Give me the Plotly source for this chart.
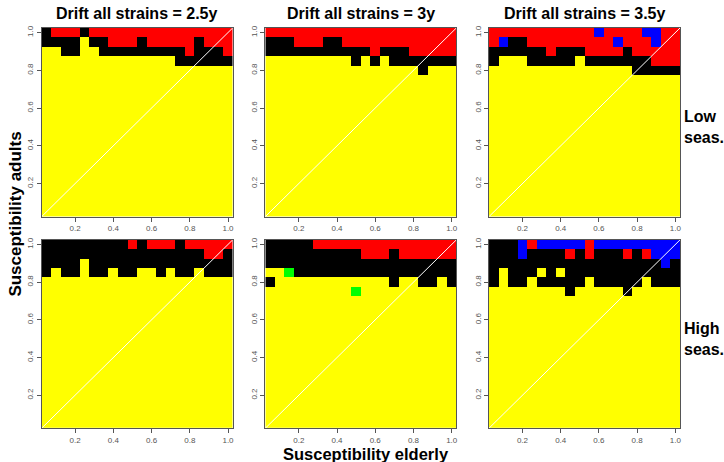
import plotly.graph_objects as go

W, H = 724, 462

# susceptibility grid (cell centres) for both axes
susc = [0.05, 0.10, 0.15, 0.20, 0.25, 0.30, 0.35, 0.40, 0.45, 0.50,
        0.55, 0.60, 0.65, 0.70, 0.75, 0.80, 0.85, 0.90, 0.95, 1.00]

tick_vals = [0.2, 0.4, 0.6, 0.8, 1.0]
tick_text = ["0.2", "0.4", "0.6", "0.8", "1.0"]

drift_titles = ["Drift all strains = 2.5y", "Drift all strains = 3y", "Drift all strains = 3.5y"]
season_labels = ["Low<br>seas.", "High<br>seas."]

# outcome category per cell, rows listed from adults=1.00 downward;
# Y=yellow, B=black, R=red, U=blue, G=green; rows not listed are all yellow
low_25 = ["BRRRBRRRRRRRRRRRRRRR",
          "BBBBYBBRRRBRRRRRBRRR",
          "YYBBYYBBBBBBBBBRBBBR",
          "YYYYYYYYYYYYYYBBBBBB"]
low_3 = ["RRRRRRRRRRRRRRRRRRRR",
         "BBBRRRBBRRRRRRRRRRRR",
         "BBBBBBBBBBBRBBBRRRRR",
         "YYYYYYYYYBYBYBBBBBBB",
         "YYYYYYYYYYYYYYYYBYYY"]
low_35 = ["RRRRRRRRRRRURRRRUURR",
          "RUBBRRRRRRRRRURRRURR",
          "BBBBBBRBBBRRRRBRRRRR",
          "BYYYBBBBBYBBBBBBBRRR",
          "YYYYYYYYYYYYYYYBBBBB"]
high_25 = ["BBBBBBBBBRBRRRBRRRRR",
           "BBBBBBBBBBBBBBBBBRRB",
           "BBBBYBBBBBBBBBBBBBBB",
           "BYBBYBBYBBYYBYBBYBBB"]
high_3 = ["BBBBBRRRRRRRRRRRRRRR",
          "BBBBBBBBBBRRRBRRRRRR",
          "BBBBBBBBBBBBBBBBBBBB",
          "YYGBBBBBBBBBBBBBBBBB",
          "BYYYYYYYYYYYYBYYBBYB",
          "YYYYYYYYYGYYYYYYYYYY"]
high_35 = ["BBBURUUUUURUUUUUUUUU",
           "BBBUBBBBRBRBBBRBRUUU",
           "BBBBBBBBBBBBBBBBBBUB",
           "BYBBBYBYBBBBBBBBBBBB",
           "BYBBYBBBBBYBBBBBYBBB",
           "YYYYYYYYBYYYYYBYYYYY"]

panels = [low_25, low_3, low_35, high_25, high_3, high_35]

code = {"Y": 0, "B": 1, "R": 2, "U": 3, "G": 4}
colorscale = [[0.0, "#FFFF00"], [0.2, "#FFFF00"],
              [0.2, "#000000"], [0.4, "#000000"],
              [0.4, "#FF0000"], [0.6, "#FF0000"],
              [0.6, "#0000FF"], [0.8, "#0000FF"],
              [0.8, "#00FF00"], [1.0, "#00FF00"]]

def build_z(rows):
    n = len(susc)
    full = list(rows) + ["Y" * n] * (n - len(rows))
    # rows given top (1.0) to bottom; z row 0 corresponds to susc[0]
    return [[code[ch] for ch in full[n - 1 - i]] for i in range(n)]

# panel pixel boxes
x_px = [(41.7, 233.1), (265.7, 457.1), (489.7, 681.1)]
y_px = [(25.0, 215.0), (238.3, 428.0)]

fig = go.Figure()
layout = dict(width=W, height=H, margin=dict(l=0, r=0, t=0, b=0),
              paper_bgcolor="white", plot_bgcolor="white", showlegend=False)

lo, hi = 0.025, 1.025
for p, rows in enumerate(panels):
    r, c = divmod(p, 3)
    xa = "x" if p == 0 else f"x{p+1}"
    ya = "y" if p == 0 else f"y{p+1}"
    fig.add_trace(go.Heatmap(x=susc, y=susc, z=build_z(rows), zmin=-0.5, zmax=4.5,
                             colorscale=colorscale, showscale=False,
                             xaxis=xa, yaxis=ya, hoverinfo="skip"))
    fig.add_trace(go.Scatter(x=[lo, hi], y=[lo, hi], mode="lines",
                             line=dict(color="white", width=1),
                             xaxis=xa, yaxis=ya, hoverinfo="skip"))
    xd = [x_px[c][0] / W, x_px[c][1] / W]
    yd = [1 - y_px[r][1] / H, 1 - y_px[r][0] / H]
    axcommon = dict(range=[lo, hi], showgrid=False, zeroline=False,
                    showline=True, mirror=True, linecolor="#555555", linewidth=1,
                    ticks="outside", ticklen=4, tickcolor="#555555",
                    tickvals=tick_vals, ticktext=tick_text,
                    tickfont=dict(family="Liberation Sans, Arial", size=8, color="#555555"))
    layout["xaxis" if p == 0 else f"xaxis{p+1}"] = dict(domain=xd, anchor=ya, **axcommon)
    layout["yaxis" if p == 0 else f"yaxis{p+1}"] = dict(domain=yd, anchor=xa, tickangle=-90, **axcommon)

fig.update_layout(**layout)

bold = "Liberation Sans, Arial"
ann = []
for c, t in enumerate(drift_titles):
    ann.append(dict(text=f"<b>{t}</b>", x=(x_px[c][0] + x_px[c][1]) / 2 / W, y=1 - 11 / H,
                    xref="paper", yref="paper", showarrow=False,
                    xanchor="center", yanchor="middle",
                    font=dict(family=bold, size=16, color="black")))
for r, t in enumerate(season_labels):
    ann.append(dict(text=f"<b>{t}</b>", x=683 / W, y=1 - (125 if r == 0 else 338) / H,
                    xref="paper", yref="paper", showarrow=False, xanchor="left",
                    yanchor="middle", align="left",
                    font=dict(family=bold, size=16, color="black")))
ann.append(dict(text="<b>Susceptibility adults</b>", x=16 / W, y=1 - 212 / H,
                xref="paper", yref="paper", showarrow=False, textangle=-90,
                xanchor="center", yanchor="middle",
                font=dict(family=bold, size=17, color="black")))
ann.append(dict(text="<b>Susceptibility elderly</b>", x=367 / W, y=1 - 453.5 / H,
                xref="paper", yref="paper", showarrow=False,
                xanchor="center", yanchor="middle",
                font=dict(family=bold, size=16.5, color="black")))
fig.update_layout(annotations=ann)

fig.write_html("out.html", config={"displayModeBar": False},
               post_script="document.body.style.margin='0';document.body.style.padding='0';")
